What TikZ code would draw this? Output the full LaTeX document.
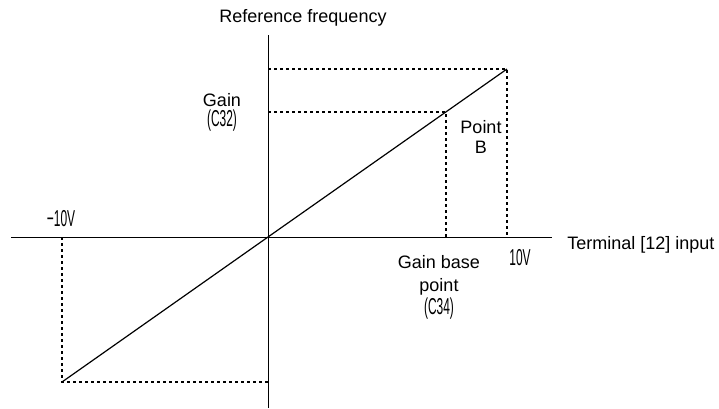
\documentclass[tikz,border=0pt]{standalone}
\usepackage{fontspec}
\setmainfont{Liberation Sans}
\newfontfamily\narrowfont[FakeStretch=0.52]{Liberation Sans}
\usetikzlibrary{positioning}

\begin{document}
\begin{tikzpicture}[
    x=0.5pt, y=-0.5pt,
    % Styles for axes, the characteristic line and the guide lines
    axis/.style={line width=0.5pt},
    graph/.style={line width=0.6pt},
    guide/.style={line width=0.75pt, dash pattern=on 1.5pt off 1.5pt},
    label/.style={font=\fontsize{9}{10}\selectfont, inner sep=0pt, align=center},
    volt/.style={font=\fontsize{11.5}{11.5}\narrowfont, inner sep=0pt}
]
  \useasboundingbox (0,0) rectangle (719,408);

  % --- KEY POINTS ---
  \coordinate (origin) at (268,237);
  \coordinate (ytop) at (268,35);
  \coordinate (ybot) at (268,408);
  \coordinate (xleft) at (11,237);
  \coordinate (xright) at (552,237);
  \coordinate (pmin) at (62,382);
  \coordinate (pmax) at (507,69);
  \coordinate (pgain) at (446,112);

  % --- AXES ---
  \draw[axis] (ybot) -- (ytop);
  \draw[axis] (xleft) -- (xright);

  % --- CHARACTERISTIC ---
  \draw[graph] (pmin) -- (origin) -- (pmax);

  % --- GUIDE LINES ---
  \draw[guide] (ytop |- pmax) -- (pmax) -- (pmax |- origin);
  \draw[guide] (origin |- pgain) -- (pgain) -- (pgain |- origin);
  \draw[guide] (pmin |- origin) -- (pmin) -- (origin |- pmin);

  % --- LABELS ---
  \node[label] (yname) at (303,18) {Reference frequency};
  \node[label, anchor=west] (xname) at (567,245) {Terminal [12] input};
  \node[label] (gain) at (222,112) {Gain\\{\fontsize{11.5}{10}\narrowfont (C32)}};
  \node[label] (pointb) at (481,137) {Point\\B};
  \node[label, font=\fontsize{9}{11.5}\selectfont] (gainbase) at (439,287) {Gain base\\point\\{\fontsize{11.5}{12.5}\narrowfont (C34)}};
  \node[volt] (vmax) at (520,258) {10V};
  \node[volt] (vmin) at (61,219) {−10V};

\end{tikzpicture}
\end{document}
